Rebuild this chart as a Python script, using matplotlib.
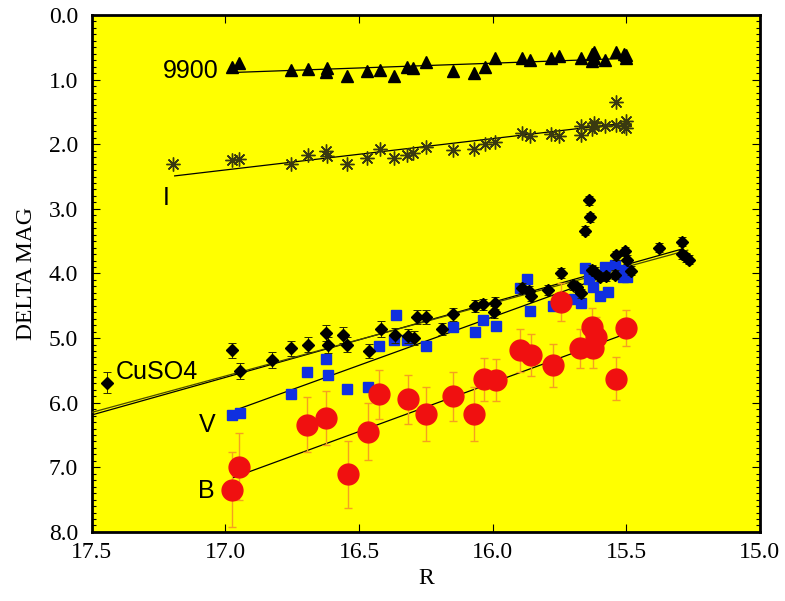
import matplotlib
matplotlib.use("Agg")
import matplotlib.pyplot as plt
from matplotlib.ticker import MultipleLocator, FormatStrFormatter

plt.rcParams["font.family"] = ["Liberation Serif", "DejaVu Serif"]

# --- data ---
r_9900 = [16.974, 16.948, 16.754, 16.69, 16.62, 16.625, 16.545, 16.47, 16.42, 16.37,
          16.32, 16.30, 16.25, 16.15, 16.07, 16.03, 15.99, 15.89, 15.86, 15.78,
          15.75, 15.67, 15.63, 15.62, 15.63, 15.62, 15.58, 15.54, 15.51, 15.50, 15.50]
mag_9900 = [0.80, 0.74, 0.85, 0.84, 0.82, 0.88, 0.94, 0.87, 0.85, 0.95,
            0.80, 0.82, 0.72, 0.87, 0.90, 0.80, 0.67, 0.67, 0.70, 0.66,
            0.63, 0.67, 0.60, 0.58, 0.71, 0.67, 0.70, 0.58, 0.60, 0.67, 0.62]

r_i = [17.198, 16.974, 16.948, 16.754, 16.69, 16.625, 16.62, 16.545, 16.47, 16.42,
       16.37, 16.32, 16.30, 16.25, 16.15, 16.07, 16.03, 15.99, 15.89, 15.86,
       15.78, 15.75, 15.67, 15.67, 15.63, 15.62, 15.62, 15.58, 15.54, 15.54,
       15.51, 15.50, 15.50]
mag_i = [2.31, 2.25, 2.23, 2.31, 2.17, 2.10, 2.18, 2.30, 2.21, 2.08,
         2.22, 2.16, 2.13, 2.04, 2.09, 2.07, 2.00, 1.97, 1.82, 1.87,
         1.84, 1.87, 1.86, 1.72, 1.77, 1.67, 1.71, 1.72, 1.35, 1.70,
         1.72, 1.64, 1.75]

r_cuso4 = [17.443, 16.975, 16.946, 16.826, 16.754, 16.69, 16.625, 16.618, 16.56, 16.545,
           16.464, 16.418, 16.366, 16.316, 16.294, 16.285, 16.251, 16.191, 16.148, 16.067,
           16.036, 15.992, 15.994, 15.892, 15.863, 15.858, 15.792, 15.746, 15.699, 15.686,
           15.671, 15.655, 15.634, 15.641, 15.630, 15.618, 15.599, 15.576, 15.543, 15.539,
           15.505, 15.499, 15.483, 15.377, 15.293, 15.293, 15.277, 15.265]
mag_cuso4 = [5.69, 5.19, 5.51, 5.34, 5.16, 5.10, 4.92, 5.11, 4.95, 5.10,
             5.20, 4.86, 4.96, 4.97, 5.00, 4.67, 4.68, 4.86, 4.63, 4.50,
             4.48, 4.46, 4.60, 4.22, 4.27, 4.35, 4.26, 3.99, 4.18, 4.21,
             4.31, 3.34, 3.13, 2.87, 3.94, 3.97, 4.05, 4.04, 4.02, 3.72,
             3.66, 3.79, 3.96, 3.60, 3.51, 3.70, 3.75, 3.79]
err_cuso4 = [0.16, 0.12, 0.13, 0.13, 0.12, 0.12, 0.12, 0.12, 0.12, 0.12,
             0.11, 0.12, 0.11, 0.11, 0.11, 0.11, 0.11, 0.10, 0.10, 0.09,
             0.09, 0.09, 0.09, 0.08, 0.08, 0.08, 0.08, 0.08, 0.07, 0.07,
             0.07, 0.07, 0.07, 0.07, 0.07, 0.07, 0.07, 0.07, 0.07, 0.07,
             0.07, 0.07, 0.07, 0.07, 0.07, 0.07, 0.07, 0.07]

r_v = [16.975, 16.946, 16.756, 16.693, 16.625, 16.618, 16.545, 16.466, 16.425, 16.370,
       16.362, 16.320, 16.251, 16.148, 16.067, 16.036, 15.989, 15.896, 15.870, 15.861,
       15.774, 15.696, 15.671, 15.655, 15.639, 15.624, 15.599, 15.570, 15.580, 15.543,
       15.514, 15.499, 15.509]
mag_v = [6.19, 6.16, 5.87, 5.53, 5.33, 5.57, 5.79, 5.76, 5.12, 5.03,
         4.64, 5.03, 5.13, 4.83, 4.91, 4.72, 4.81, 4.22, 4.09, 4.58,
         4.50, 4.39, 4.45, 3.92, 4.09, 4.21, 4.35, 4.28, 3.90, 3.87,
         4.05, 4.05, 3.94]

r_b = [16.977, 16.949, 16.693, 16.625, 16.543, 16.466, 16.425, 16.316, 16.251, 16.148,
       16.069, 16.033, 15.988, 15.896, 15.858, 15.774, 15.745, 15.674, 15.630, 15.626,
       15.615, 15.539, 15.502]
mag_b = [7.35, 6.99, 6.34, 6.24, 7.11, 6.45, 5.87, 5.95, 6.18, 5.90,
         6.18, 5.64, 5.65, 5.19, 5.26, 5.42, 4.44, 5.16, 4.83, 5.16,
         4.98, 5.63, 4.84]
err_b = [0.58, 0.52, 0.43, 0.42, 0.52, 0.44, 0.38, 0.38, 0.42, 0.38,
         0.42, 0.33, 0.33, 0.33, 0.33, 0.33, 0.30, 0.30, 0.30, 0.30,
         0.30, 0.33, 0.28]

# fitted lines (end points)
fit_9900 = ([16.975, 15.49], [0.89, 0.67])
fit_i = ([17.19, 15.50], [2.49, 1.67])
fit_cuso4_a = ([17.5, 15.29], [6.19, 3.62])
fit_cuso4_b = ([17.5, 15.27], [6.15, 3.64])
fit_v = ([16.946, 15.49], [6.09, 3.91])
fit_b = ([16.971, 15.499], [7.16, 4.93])

fig = plt.figure(figsize=(7.85, 6.01), dpi=100)
ax = fig.add_axes([0.117, 0.115, 0.851, 0.860])
ax.set_facecolor("#ffff00")

line_kw = dict(color="black", lw=0.9, zorder=3)
ax.plot(*fit_9900, **line_kw)
ax.plot(*fit_i, **line_kw)
ax.plot(*fit_cuso4_a, **line_kw)
ax.plot(*fit_cuso4_b, color="#4a4a00", lw=0.9, zorder=3)
ax.plot(*fit_v, **line_kw)
ax.plot(*fit_b, **line_kw)

ax.plot(r_9900, mag_9900, ls="none", marker="^", ms=9, color="black", zorder=4)
ax.plot(r_i, mag_i, ls="none", marker=(8, 2, 0), ms=10, mew=1.0,
        color="#3a3a10", zorder=4)
ax.errorbar(r_cuso4, mag_cuso4, yerr=err_cuso4, fmt="D", ms=6.5, color="black",
            ecolor="#2a2a00", elinewidth=0.7, capsize=3, capthick=0.7, zorder=5)
ax.errorbar(r_v, mag_v, yerr=0.07, fmt="s", ms=7, color="#1030e0",
            ecolor="#1030e0", elinewidth=0.6, capsize=2.5, capthick=0.6, zorder=4)
ax.errorbar(r_b, mag_b, yerr=err_b, fmt="o", ms=15, color="#f01010",
            ecolor="#f5a020", elinewidth=1.0, capsize=3, capthick=1.0, zorder=4)

lab_kw = dict(fontsize=18, family="Liberation Sans", ha="center", va="center")
ax.text(17.13, 0.86, "9900", **lab_kw)
ax.text(17.22, 2.83, "I", **lab_kw)
ax.text(17.257, 5.52, "CuSO4", **lab_kw)
ax.text(17.07, 6.34, "V", **lab_kw)
ax.text(17.07, 7.37, "B", **lab_kw)

ax.set_xlim(17.5, 15.0)
ax.set_ylim(8.0, 0.0)
ax.xaxis.set_major_locator(MultipleLocator(0.5))
ax.yaxis.set_major_locator(MultipleLocator(1.0))
ax.yaxis.set_minor_locator(MultipleLocator(0.1))
ax.xaxis.set_major_formatter(FormatStrFormatter("%.1f"))
ax.yaxis.set_major_formatter(FormatStrFormatter("%.1f"))
ax.tick_params(which="both", direction="in", top=True, right=True, width=0.8)
ax.tick_params(which="major", length=6, labelsize=17)
ax.tick_params(which="minor", length=3)
ax.tick_params(axis="y", which="major", pad=10)
ax.tick_params(axis="x", which="major", pad=7)
for sp in ax.spines.values():
    sp.set_linewidth(2.0)

ax.set_xlabel("R", fontsize=17, labelpad=4)
ax.set_ylabel("DELTA MAG", fontsize=17, labelpad=8)

fig.savefig("out.png", dpi=100)
